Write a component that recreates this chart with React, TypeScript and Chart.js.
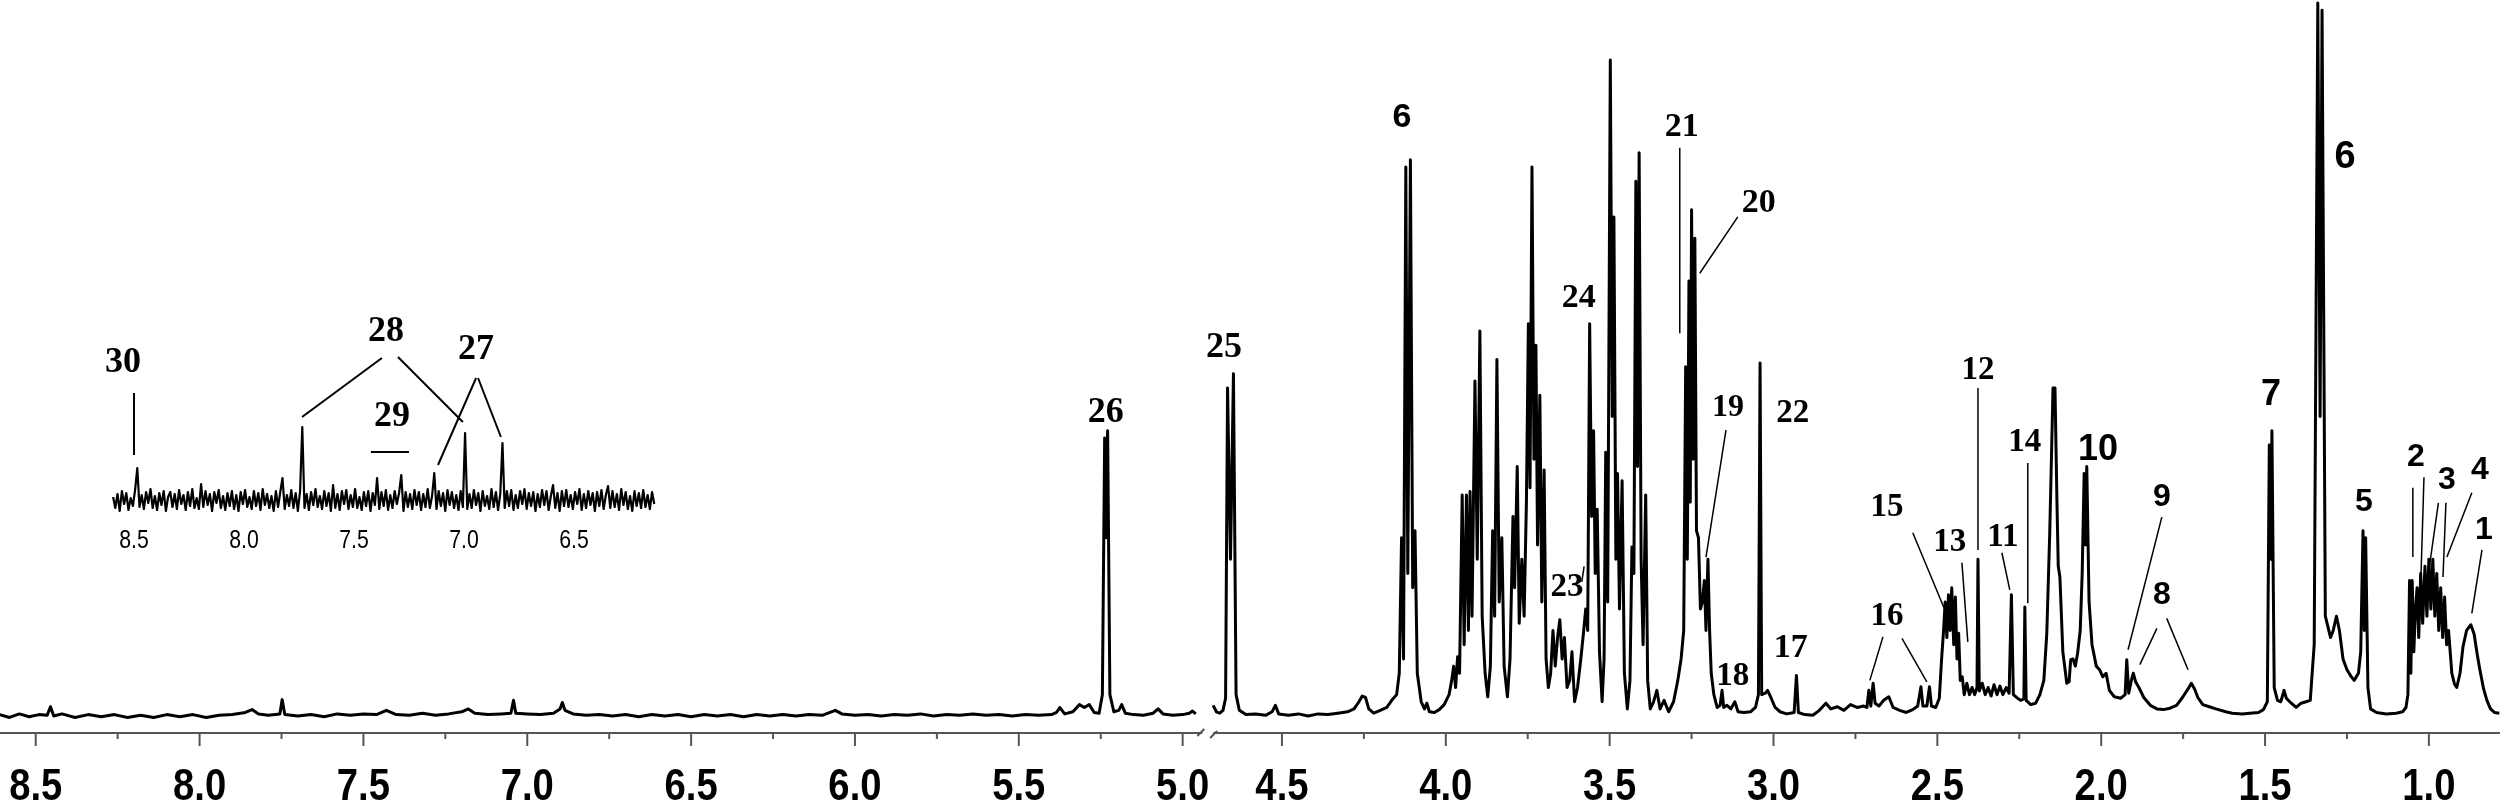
import React, { useEffect, useRef } from "react";
import { Chart, registerables } from "chart.js";

Chart.register(...registerables);

// ---------------- data ----------------
// ppm removed from the axis by the break between 4.94 and 4.71 ppm
const AXIS_GAP_PPM = 0.197;

const majorTicks = [8.5, 8.0, 7.5, 7.0, 6.5, 6.0, 5.5, 5.0, 4.5, 4.0, 3.5, 3.0, 2.5, 2.0, 1.5, 1.0];
const minorTicks = [8.25, 7.75, 7.25, 6.75, 6.25, 5.75, 5.25, 4.25, 3.75, 3.25, 2.75, 2.25, 1.75, 1.25];
const leftAxisRange = [8.7, 4.94];
const rightAxisRange = [4.71, 0.7];

// [ppm, relative intensity %]
const spectrumLowField: [number, number][] = [
  [8.61, 0.2], [8.58, -0.2], [8.55, 0.3], [8.52, -0.1], [8.49, 0.2], [8.465, 0.1], [8.455, 1.3], [8.445, 0],
  [8.42, 0.3], [8.38, -0.2], [8.34, 0.2], [8.3, -0.1], [8.26, 0.2], [8.22, -0.2], [8.18, 0.1], [8.14, -0.2],
  [8.1, 0.2], [8.06, -0.1], [8.02, 0.2], [7.98, -0.2], [7.94, 0.1], [7.9, 0.2], [7.86, 0.5], [7.84, 0.9],
  [7.82, 0.3], [7.79, 0.1], [7.755, 0.3], [7.748, 2.3], [7.74, 0.2], [7.7, 0], [7.66, 0.2], [7.62, -0.1],
  [7.58, 0.3], [7.54, 0.1], [7.5, 0.3], [7.46, 0.2], [7.43, 0.8], [7.4, 0.2], [7.36, 0.1], [7.32, 0.4],
  [7.28, 0.1], [7.24, 0.3], [7.2, 0.6], [7.18, 1.0], [7.16, 0.4], [7.12, 0.2], [7.08, 0.3], [7.05, 0.4],
  [7.042, 2.2], [7.035, 0.4], [7.0, 0.3], [6.96, 0.2], [6.92, 0.4], [6.9, 1.0], [6.893, 1.9], [6.885, 0.8],
  [6.86, 0.3], [6.82, 0.1], [6.78, 0.2], [6.74, 0], [6.7, 0.2], [6.66, -0.1], [6.62, 0.2], [6.58, 0],
  [6.54, 0.2], [6.5, -0.1], [6.46, 0.2], [6.42, 0], [6.38, 0.2], [6.34, -0.1], [6.3, 0.2], [6.26, 0],
  [6.22, 0.2], [6.18, 0], [6.14, 0.2], [6.1, 0.1], [6.06, 0.8], [6.04, 0.3], [6.0, 0.1], [5.96, 0.2],
  [5.92, 0], [5.88, 0.2], [5.84, 0.1], [5.8, 0.3], [5.76, 0], [5.72, 0.2], [5.68, 0.1], [5.64, 0.3],
  [5.6, 0.1], [5.56, 0.2], [5.52, 0], [5.48, 0.2], [5.44, 0.1], [5.4, 0.2], [5.385, 0.5], [5.375, 1.2],
  [5.36, 0.3], [5.335, 0.6], [5.315, 1.6], [5.3, 1.2], [5.285, 1.6], [5.27, 0.5], [5.255, 0.4], [5.245, 3],
  [5.238, 39], [5.2335, 25], [5.229, 40], [5.222, 3], [5.21, 0.6], [5.195, 0.8], [5.186, 1.6], [5.175, 0.4],
  [5.15, 0.2], [5.12, 0.1], [5.09, 0.4], [5.075, 1.0], [5.06, 0.3], [5.03, 0.1], [5.0, 0.2], [4.98, 0.4],
  [4.97, 0.7], [4.96, 0.3],
];

const spectrumSugars: [number, number][] = [
  [4.71, 1.5], [4.7, 0.6], [4.69, 0.4], [4.68, 0.8], [4.672, 2.5], [4.666, 46], [4.657, 22], [4.648, 48],
  [4.64, 3], [4.63, 0.8], [4.61, 0.2], [4.58, 0.3], [4.55, 0.1], [4.53, 0.6], [4.52, 1.5], [4.51, 0.3],
  [4.48, 0.1], [4.45, 0.3], [4.42, 0], [4.39, 0.3], [4.36, 0.2], [4.33, 0.4], [4.3, 0.6], [4.28, 1.0],
  [4.265, 2.0], [4.255, 2.8], [4.245, 2.6], [4.235, 1.0], [4.22, 0.4], [4.2, 0.8], [4.18, 1.2], [4.165, 2.2],
  [4.15, 3.0], [4.142, 6], [4.135, 25], [4.129, 8], [4.122, 77], [4.116, 20], [4.108, 78], [4.101, 18],
  [4.094, 26], [4.087, 6], [4.075, 2], [4.065, 1], [4.058, 1.8], [4.05, 0.6], [4.035, 0.5], [4.02, 0.9],
  [4.005, 1.6], [3.99, 3], [3.982, 5], [3.976, 7], [3.97, 4], [3.964, 8.3], [3.958, 6], [3.95, 31],
  [3.944, 10], [3.937, 31], [3.931, 12], [3.926, 31.5], [3.92, 14], [3.911, 47], [3.904, 22], [3.896, 54],
  [3.889, 14], [3.88, 6], [3.872, 2.7], [3.864, 7], [3.857, 26], [3.851, 14], [3.844, 50], [3.837, 16],
  [3.829, 25], [3.822, 7], [3.812, 2.7], [3.804, 8], [3.795, 28], [3.79, 18], [3.782, 35], [3.776, 13],
  [3.768, 22], [3.761, 14], [3.754, 30], [3.748, 55], [3.743, 32], [3.737, 77], [3.731, 36], [3.725, 52],
  [3.72, 24], [3.713, 45], [3.707, 16], [3.7, 34.5], [3.694, 8], [3.687, 4], [3.68, 6], [3.673, 12],
  [3.666, 7], [3.659, 11], [3.652, 13.5], [3.645, 8], [3.638, 11], [3.63, 4], [3.622, 5], [3.615, 9],
  [3.607, 2], [3.598, 4], [3.588, 8], [3.58, 11.6], [3.573, 15], [3.567, 12], [3.561, 55], [3.555, 28],
  [3.549, 40], [3.544, 20], [3.538, 29], [3.531, 9], [3.523, 2], [3.517, 8], [3.512, 37], [3.506, 16],
  [3.498, 92], [3.492, 42], [3.487, 70], [3.481, 22], [3.476, 34], [3.47, 15], [3.462, 33], [3.455, 6],
  [3.446, 1], [3.438, 5], [3.432, 23.7], [3.426, 20], [3.42, 75], [3.415, 35], [3.41, 79], [3.404, 22],
  [3.398, 10], [3.39, 31], [3.384, 5], [3.376, 1], [3.366, 2], [3.356, 3.6], [3.346, 1], [3.334, 2.2],
  [3.32, 0.6], [3.305, 2], [3.292, 5], [3.282, 8], [3.274, 12], [3.268, 49], [3.263, 22], [3.258, 61],
  [3.254, 30], [3.25, 71], [3.245, 36], [3.24, 67], [3.235, 26], [3.229, 25], [3.223, 15], [3.217, 16],
  [3.211, 19], [3.206, 12], [3.2, 22], [3.195, 12], [3.19, 6], [3.182, 3], [3.172, 1.2], [3.163, 1.5],
  [3.157, 3.6], [3.152, 1.2], [3.142, 1.5], [3.13, 1], [3.118, 2], [3.108, 0.6], [3.09, 0.5], [3.07, 0.6],
  [3.055, 1.2], [3.046, 3], [3.041, 49.5], [3.036, 3], [3.025, 3.2], [3.018, 3.6], [3.008, 2.6], [2.995, 1.2],
  [2.98, 0.6], [2.96, 0.3], [2.937, 0.5], [2.93, 5.7], [2.924, 0.5], [2.905, 0.2],
];

const spectrumAliphatic: [number, number][] = [
  [2.88, 0.1], [2.86, 0.8], [2.84, 1.8], [2.825, 1], [2.805, 1.3], [2.785, 0.8], [2.765, 1.6], [2.745, 1.2],
  [2.725, 1.4], [2.715, 1.2], [2.709, 3.6], [2.703, 1.4], [2.696, 4.6], [2.69, 1.8], [2.678, 1.4], [2.664, 2.2],
  [2.648, 2.7], [2.635, 1.2], [2.615, 0.8], [2.595, 0.5], [2.575, 0.9], [2.56, 1.4], [2.55, 4.1], [2.544, 1.4],
  [2.532, 1.4], [2.524, 4.1], [2.518, 1.4], [2.505, 1.2], [2.494, 2.5], [2.487, 8], [2.481, 12], [2.476, 16],
  [2.471, 11], [2.466, 17], [2.461, 12], [2.456, 18], [2.45, 10], [2.445, 16.7], [2.44, 8], [2.435, 11.6],
  [2.43, 5], [2.424, 5.5], [2.418, 3], [2.41, 4.6], [2.402, 3], [2.394, 4], [2.386, 3], [2.379, 4],
  [2.376, 22], [2.372, 3.5], [2.363, 4.6], [2.354, 3], [2.345, 4], [2.336, 2.8], [2.327, 4.4], [2.318, 3],
  [2.309, 4.2], [2.3, 3], [2.29, 4], [2.281, 3.2], [2.274, 17], [2.268, 3], [2.258, 2.6], [2.246, 2.2],
  [2.236, 2.4], [2.233, 15.3], [2.229, 2.2], [2.215, 1.6], [2.2, 1.8], [2.187, 3], [2.175, 5], [2.166, 11.6],
  [2.157, 25.7], [2.147, 46], [2.141, 46], [2.135, 30], [2.131, 21], [2.126, 19.5], [2.117, 9], [2.105, 4.6],
  [2.098, 4.8], [2.093, 7.9], [2.086, 8], [2.079, 7], [2.072, 8.8], [2.064, 12], [2.058, 20], [2.052, 34],
  [2.048, 24], [2.044, 35], [2.037, 16], [2.028, 10], [2.015, 7], [2.005, 6.5], [1.995, 5.5], [1.985, 6],
  [1.975, 3.6], [1.96, 2.7], [1.94, 2.5], [1.927, 3], [1.922, 7.9], [1.916, 3.2], [1.908, 5], [1.902, 6],
  [1.895, 4.8], [1.885, 4], [1.87, 2.6], [1.85, 1.5], [1.83, 1], [1.81, 0.9], [1.79, 1.1], [1.77, 1.5],
  [1.752, 2.6], [1.735, 3.8], [1.725, 4.6], [1.715, 3.8], [1.705, 2.6], [1.69, 1.6], [1.67, 1.3], [1.65, 1],
  [1.62, 0.6], [1.6, 0.4], [1.57, 0.3], [1.546, 0.4], [1.52, 0.5], [1.505, 0.9], [1.493, 2], [1.487, 38],
  [1.483, 22], [1.479, 40], [1.472, 4], [1.462, 2.2], [1.452, 2], [1.442, 3.6], [1.435, 2.5], [1.42, 1.8],
  [1.405, 1.2], [1.39, 1.8], [1.375, 2], [1.362, 2.2], [1.35, 10], [1.339, 100], [1.332, 42], [1.326, 99],
  [1.316, 14], [1.308, 12.5], [1.3, 11], [1.292, 12], [1.282, 14], [1.273, 12], [1.262, 8], [1.25, 6.5],
  [1.238, 5.6], [1.228, 5], [1.215, 6], [1.208, 9], [1.201, 26], [1.197, 12], [1.193, 25], [1.186, 4],
  [1.178, 1], [1.16, 0.5], [1.13, 0.3], [1.1, 0.4], [1.08, 0.6], [1.07, 1.2], [1.064, 3], [1.059, 19],
  [1.055, 6], [1.051, 19], [1.046, 9], [1.041, 15], [1.036, 18], [1.031, 11], [1.025, 20], [1.019, 13],
  [1.012, 21], [1.006, 14], [1.0, 22], [0.994, 15], [0.988, 22], [0.982, 14], [0.976, 20], [0.97, 12],
  [0.964, 18], [0.958, 11], [0.952, 16.7], [0.946, 10], [0.94, 12], [0.93, 6], [0.922, 4.5], [0.915, 4],
  [0.905, 6], [0.896, 9.7], [0.885, 12], [0.872, 12.8], [0.862, 11.5], [0.852, 8.5], [0.844, 6.4], [0.833, 3.8],
  [0.823, 2.2], [0.812, 1], [0.8, 0.5], [0.785, 0.4],
];

// inset (aromatic region, expanded): sampled every 0.01 ppm from 8.595 ppm
const insetPpmStart = 8.595;
const insetPpmStep = 0.01;
const insetSignal = [
  3, -8, 6, -11, 9, -4, 7, -10, 2, -6, 10, 32, -7, 5, -9, 8, -3, 11, -8, 4,
  -10, 7, -5, 9, -11, 3, 8, -7, 6, -9, 10, -4, 5, -10, 8, -6, 11, -8, 2, -9,
  16, -7, 9, -5, 6, -11, 8, -3, 10, -8, 4, -10, 7, -6, 9, -9, 5, -11, 8, -4,
  10, -7, 3, -9, 9, -6, 7, -10, 11, -5, 6, -8, 4, -11, 9, -7, 8, 22, -9, 5,
  -6, 10, -8, 7, -11, 9, 73, -8, 6, -10, 8, -5, 11, -7, 4, -9, 9, -6, 7, -11,
  15, -8, 6, -10, 9, -4, 10, -9, 5, -7, 11, -8, 3, -10, 8, -6, 9, -11, 7, -5,
  22, -9, 8, -6, 10, -10, 5, -8, 9, -4, 7, 25, -11, 8, -7, 6, -9, 10, -5, 8,
  -10, 6, -7, 11, -8, 4, 27, -9, 9, -6, 7, -11, 10, -5, 8, -8, 5, -10, 9, -7,
  67, -9, 6, -8, 10, -5, 7, -11, 9, -6, 4, -9, 11, -7, 8, -10, 6, 57, -8, 9,
  -6, 10, -10, 5, -8, 9, -4, 11, -9, 7, -6, 8, -11, 6, -7, 10, -5, 9, -10, 4,
  15, -8, 7, -11, 9, -6, 10, -7, 5, -9, 8, -4, 11, -10, 6, -8, 9, -5, 7, -11,
  8, -6, 10, -9, 5, 14, -8, 9, -7, 6, -10, 11, -5, 8, -9, 4, -11, 9, -6, 7,
  -8, 10, -7, 5, -9, 8, -4,
];
const insetTicks = [8.5, 8.0, 7.5, 7.0, 6.5];

type Label = { text: string; ppm: number; h: number; serif: boolean; size: number };
const peakLabels: Label[] = [
  { text: "26", ppm: 5.235, h: 42.5, serif: true, size: 36 },
  { text: "25", ppm: 4.677, h: 51.6, serif: true, size: 36 },
  { text: "6", ppm: 4.134, h: 83.9, serif: false, size: 34 },
  { text: "24", ppm: 3.594, h: 58.6, serif: true, size: 34 },
  { text: "21", ppm: 3.28, h: 82.6, serif: true, size: 34 },
  { text: "20", ppm: 3.045, h: 71.9, serif: true, size: 34 },
  { text: "19", ppm: 3.139, h: 43.2, serif: true, size: 32 },
  { text: "22", ppm: 2.941, h: 42.5, serif: true, size: 33 },
  { text: "23", ppm: 3.63, h: 18.0, serif: true, size: 33 },
  { text: "18", ppm: 3.124, h: 5.5, serif: true, size: 33 },
  { text: "17", ppm: 2.947, h: 9.5, serif: true, size: 34 },
  { text: "16", ppm: 2.654, h: 13.9, serif: true, size: 33 },
  { text: "15", ppm: 2.654, h: 29.2, serif: true, size: 33 },
  { text: "13", ppm: 2.462, h: 24.4, serif: true, size: 33 },
  { text: "12", ppm: 2.376, h: 48.5, serif: true, size: 33 },
  { text: "11", ppm: 2.3, h: 25.0, serif: true, size: 33 },
  { text: "14", ppm: 2.233, h: 38.4, serif: true, size: 33 },
  { text: "10", ppm: 2.01, h: 37.3, serif: false, size: 36 },
  { text: "9", ppm: 1.815, h: 30.7, serif: false, size: 32 },
  { text: "8", ppm: 1.815, h: 17.0, serif: false, size: 32 },
  { text: "7", ppm: 1.482, h: 45.0, serif: false, size: 36 },
  { text: "6", ppm: 1.256, h: 78.3, serif: false, size: 38 },
  { text: "5", ppm: 1.198, h: 30.0, serif: false, size: 32 },
  { text: "2", ppm: 1.04, h: 36.3, serif: false, size: 32 },
  { text: "3", ppm: 0.945, h: 33.1, serif: false, size: 32 },
  { text: "4", ppm: 0.844, h: 34.5, serif: false, size: 32 },
  { text: "1", ppm: 0.832, h: 26.1, serif: false, size: 32 },
];

// [ppm1, h1, ppm2, h2]
const leaderLines: number[][] = [
  [3.286, 79.7, 3.286, 53.7],
  [3.109, 70.0, 3.225, 62.1],
  [3.145, 40.1, 3.206, 22.3],
  [3.578, 21.0, 3.585, 18.8],
  [2.666, 11.1, 2.706, 5.0],
  [2.608, 10.9, 2.532, 4.8],
  [2.575, 25.7, 2.468, 13.9],
  [2.425, 21.5, 2.407, 10.4],
  [2.376, 46.0, 2.376, 23.3],
  [2.303, 22.9, 2.279, 17.7],
  [2.224, 35.5, 2.224, 15.8],
  [1.815, 27.9, 1.918, 9.3],
  [1.83, 12.3, 1.882, 7.2],
  [1.8, 13.7, 1.735, 6.5],
  [1.049, 32.0, 1.049, 22.3],
  [1.015, 33.5, 1.027, 15.3],
  [0.971, 29.9, 1.003, 19.5],
  [0.948, 29.9, 0.957, 19.5],
  [0.869, 31.3, 0.945, 22.3],
  [0.838, 23.3, 0.869, 14.4],
];

const insetLabels: Label[] = [
  { text: "30", ppm: 8.55, h: 137, serif: true, size: 36 },
  { text: "28", ppm: 7.355, h: 168, serif: true, size: 36 },
  { text: "27", ppm: 6.945, h: 150, serif: true, size: 36 },
  { text: "29", ppm: 7.327, h: 83, serif: true, size: 36 },
];
const insetLeaders: number[][] = [
  [8.5, 107, 8.5, 45],
  [7.373, 142, 7.736, 83],
  [7.3, 143, 7.005, 78],
  [6.945, 122, 7.118, 35],
  [6.936, 122, 6.832, 63],
  [7.423, 48, 7.25, 48],
];

// ---------------- helpers ----------------
const toU = (ppm: number) => (ppm > 4.8 ? ppm - AXIS_GAP_PPM : ppm);

const SERIF = '"Liberation Serif", "Times New Roman", serif';
const SANS = '"Liberation Sans", Arial, sans-serif';

const labelPlugin = {
  id: "peakLabels",
  afterDatasetsDraw(chart: any, _args: any, opts: any) {
    const { ctx, scales } = chart;
    const xs = scales.x;
    const ys = scales.y;
    ctx.save();
    ctx.strokeStyle = "#000";
    ctx.lineWidth = opts.lineWidth || 1.5;
    for (const l of opts.leaders || []) {
      ctx.beginPath();
      ctx.moveTo(xs.getPixelForValue(l[0]), ys.getPixelForValue(l[1]));
      ctx.lineTo(xs.getPixelForValue(l[2]), ys.getPixelForValue(l[3]));
      ctx.stroke();
    }
    ctx.fillStyle = "#000";
    ctx.textAlign = "center";
    ctx.textBaseline = "middle";
    for (const t of opts.labels || []) {
      ctx.font = `bold ${t.size}px ${t.serif ? SERIF : SANS}`;
      ctx.fillText(t.text, xs.getPixelForValue(t.x), ys.getPixelForValue(t.h));
    }
    ctx.restore();
  },
};

// axis line, tick marks and tick labels drawn from the x scale
const axisPlugin = {
  id: "nmrAxis",
  afterDraw(chart: any, _args: any, opts: any) {
    const { ctx, chartArea, scales } = chart;
    const xs = scales.x;
    const y = chartArea.bottom;
    const px = (u: number) => xs.getPixelForValue(u);
    ctx.save();
    ctx.strokeStyle = "#555";
    ctx.lineWidth = 2;
    for (const s of opts.segments || []) {
      ctx.beginPath();
      ctx.moveTo(px(s[0]), y);
      ctx.lineTo(px(s[1]), y);
      ctx.stroke();
    }
    if (opts.breakAt) {
      const bl = px(opts.breakAt[0]);
      const br = px(opts.breakAt[1]);
      ctx.beginPath();
      ctx.moveTo(bl - 5, y + 3);
      ctx.lineTo(bl + 2, y - 4);
      ctx.moveTo(br - 3, y + 5);
      ctx.lineTo(br + 4, y - 2);
      ctx.stroke();
    }
    if (opts.majorLen) {
      for (const t of opts.major || []) {
        ctx.beginPath();
        ctx.moveTo(px(t.u), y);
        ctx.lineTo(px(t.u), y + opts.majorLen);
        ctx.stroke();
      }
    }
    for (const u of opts.minor || []) {
      ctx.beginPath();
      ctx.moveTo(px(u), y);
      ctx.lineTo(px(u), y + opts.minorLen);
      ctx.stroke();
    }
    ctx.fillStyle = "#000";
    ctx.textAlign = "center";
    ctx.textBaseline = "alphabetic";
    ctx.font = `${opts.weight} ${opts.size}px ${SANS}`;
    for (const t of opts.major || []) {
      ctx.save();
      ctx.translate(px(t.u), y + opts.labelBaseline);
      ctx.scale(opts.squeeze, 1);
      ctx.fillText(t.text, 0, 0);
      ctx.restore();
    }
    ctx.restore();
  },
};

function buildMainData() {
  const pts: { x: number; y: number | null }[] = [];
  for (const [p, v] of spectrumLowField) pts.push({ x: toU(p), y: v });
  pts.push({ x: (toU(4.96) + 4.71) / 2, y: null });
  for (const [p, v] of spectrumSugars) pts.push({ x: toU(p), y: v });
  for (const [p, v] of spectrumAliphatic) pts.push({ x: toU(p), y: v });
  return pts;
}

function buildInsetData() {
  return insetSignal.map((v, i) => ({ x: insetPpmStart - i * insetPpmStep, y: v }));
}

export default function App() {
  const mainRef = useRef<HTMLCanvasElement>(null);
  const insetRef = useRef<HTMLCanvasElement>(null);

  useEffect(() => {
    const main = new Chart(mainRef.current as HTMLCanvasElement, {
      type: "line",
      data: {
        datasets: [
          {
            data: buildMainData(),
            borderColor: "#000",
            borderWidth: 3,
            pointRadius: 0,
            tension: 0,
            spanGaps: false,
            fill: false,
            borderJoinStyle: "round",
          },
        ],
      },
      options: {
        responsive: false,
        animation: false,
        events: [],
        layout: { padding: { left: 0, right: 0, top: 0, bottom: 79 } },
        plugins: {
          legend: { display: false },
          tooltip: { enabled: false },
          peakLabels: {
            lineWidth: 1.5,
            labels: peakLabels.map((l) => ({ ...l, x: toU(l.ppm) })),
            leaders: leaderLines.map((l) => [toU(l[0]), l[1], toU(l[2]), l[3]]),
          },
          nmrAxis: {
            segments: [
              [toU(leftAxisRange[0]), toU(leftAxisRange[1])],
              [toU(rightAxisRange[0]), toU(rightAxisRange[1])],
            ],
            breakAt: [toU(leftAxisRange[1]), toU(rightAxisRange[0])],
            major: majorTicks.map((p) => ({ u: toU(p), text: p.toFixed(1) })),
            minor: minorTicks.map((p) => toU(p)),
            majorLen: 13,
            minorLen: 6,
            size: 45,
            weight: "bold",
            squeeze: 0.85,
            labelBaseline: 67,
          },
        },
        scales: {
          x: { type: "linear", display: false, reverse: true, min: 0.783, max: 8.412 },
          y: { type: "linear", display: false, min: -2.38, max: 100.42 },
        },
      } as any,
      plugins: [labelPlugin, axisPlugin],
    });

    const inset = new Chart(insetRef.current as HTMLCanvasElement, {
      type: "line",
      data: {
        datasets: [
          {
            data: buildInsetData(),
            borderColor: "#000",
            borderWidth: 2.2,
            pointRadius: 0,
            tension: 0,
            fill: false,
            borderJoinStyle: "round",
          },
        ],
      },
      options: {
        responsive: false,
        animation: false,
        events: [],
        layout: { padding: { left: 0, right: 0, top: 0, bottom: 45 } },
        plugins: {
          legend: { display: false },
          tooltip: { enabled: false },
          peakLabels: {
            lineWidth: 2,
            labels: insetLabels.map((l) => ({ ...l, x: l.ppm })),
            leaders: insetLeaders,
          },
          nmrAxis: {
            segments: [],
            major: insetTicks.map((p) => ({ u: p, text: p.toFixed(1) })),
            minor: [],
            majorLen: 0,
            minorLen: 0,
            size: 25,
            weight: "normal",
            squeeze: 0.85,
            labelBaseline: 28,
          },
        },
        scales: {
          x: { type: "linear", display: false, reverse: true, min: 6.018, max: 8.6545 },
          y: { type: "linear", display: false, min: -20, max: 200 },
        },
      } as any,
      plugins: [labelPlugin, axisPlugin],
    });

    return () => {
      main.destroy();
      inset.destroy();
    };
  }, []);

  return (
    <div
      style={{
        position: "fixed",
        left: 0,
        top: 0,
        width: 2500,
        height: 812,
        background: "#fff",
        overflow: "hidden",
      }}
    >
      <canvas
        ref={mainRef}
        width={2500}
        height={812}
        style={{ position: "absolute", left: 0, top: 0, width: 2500, height: 812 }}
      />
      <canvas
        ref={insetRef}
        width={580}
        height={265}
        style={{ position: "absolute", left: 100, top: 300, width: 580, height: 265 }}
      />
    </div>
  );
}
